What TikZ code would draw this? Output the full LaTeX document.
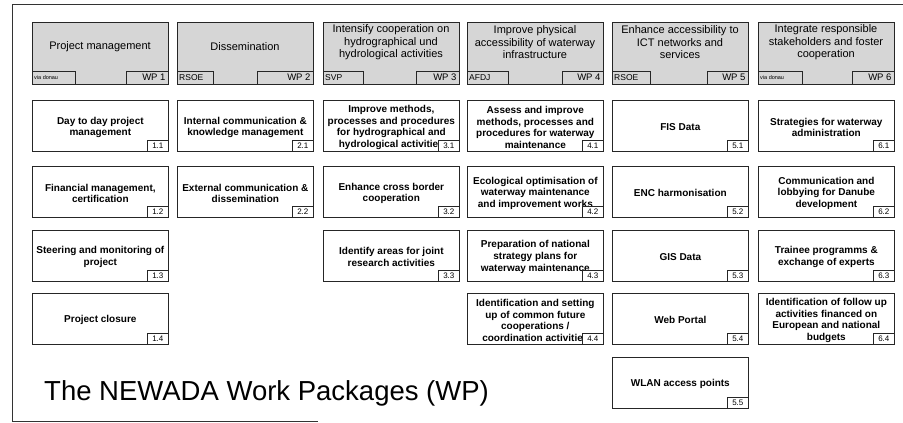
\documentclass[tikz,border=0pt]{standalone}
\usepackage{fontspec}
\setmainfont{Liberation Sans}
\begin{document}
\begin{tikzpicture}[x=1pt,y=-1pt,
  frame/.style={line width=0.8pt, draw=black!80},
  hdr/.style={draw=black!85, line width=0.7pt, fill=black!16, minimum width=136pt, minimum height=62.5pt, anchor=north west, inner sep=0pt},
  hlab/.style={draw=black!85, line width=0.7pt, fill=black!16, minimum height=13.5pt, anchor=south west, inner sep=0pt},
  labtxt/.style={font=\fontsize{8.5}{9}\selectfont, inner sep=0pt},
  tinytxt/.style={font=\fontsize{5.5}{6}\selectfont, inner sep=0pt},
  wptxt/.style={font=\fontsize{9.5}{10}\selectfont, inner sep=0pt},
  htxt/.style={align=center, font=\fontsize{11}{12.5}\selectfont, inner sep=0pt},
  bx/.style={draw=black!85, line width=0.7pt, fill=white, minimum width=136pt, minimum height=51pt, anchor=north west, inner sep=0pt},
  num/.style={draw=black!85, line width=0.7pt, fill=white, minimum width=21pt, minimum height=11pt, anchor=south east, inner sep=0pt, font=\fontsize{8}{9}\selectfont},
  btxt/.style={align=center, font=\fontsize{10}{11.8}\selectfont\bfseries, inner sep=0pt},
  ttl/.style={font=\fontsize{27.5}{30}\selectfont, anchor=base west, inner sep=0pt}]
\useasboundingbox (0,0) rectangle (903,423);

\newcommand\hdrbox[9]{%
  \node[hdr] (h#1) at (#2,21.5) {};
  \node[htxt] (ht#1) at (#2+68,#9) {#3};
  \node[hlab, minimum width=#4pt] (hl#1) at (h#1.south west) {};
  \node[#8, anchor=west] (hlt#1) at ([xshift=2pt]hl#1.west) {#5};
  \node[hlab, anchor=south east, minimum width=#6pt] (hw#1) at (h#1.south east) {};
  \node[wptxt, anchor=east] (hwt#1) at ([xshift=-3pt]hw#1.east) {#7};
}
\newcommand\wpitem[5]{%
  \node[bx] (b#1) at (#2,#3) {};
  \node[btxt] (t#1) at ([yshift=-1.5pt]b#1.center) {#4};
  \node[num] (n#1) at (b#1.south east) {#5};
}

% frame
\coordinate (fTR) at (903,4.5);
\coordinate (fTL) at (12,4.5);
\coordinate (fBL) at (12,421.5);
\coordinate (fBR) at (318,421.5);
\draw[frame] (fTR) -- (fTL) -- (fBL) -- (fBR);

% headers
\hdrbox{1}{32}{Project management}{43}{via donau}{42}{WP 1}{tinytxt}{47}
\hdrbox{2}{177}{Dissemination}{36}{RSOE}{56}{WP 2}{labtxt}{47}
\hdrbox{3}{323}{Intensify cooperation on\\hydrographical und\\hydrological activities}{40}{SVP}{43}{WP 3}{labtxt}{42.5}
\hdrbox{4}{467}{Improve physical\\accessibility of waterway\\infrastructure}{41}{AFDJ}{41}{WP 4}{labtxt}{42.5}
\hdrbox{5}{612}{Enhance accessibility to\\ICT networks and\\services}{38}{RSOE}{41}{WP 5}{labtxt}{42.5}
\hdrbox{6}{758}{Integrate responsible\\stakeholders and foster\\cooperation}{44}{via donau}{42}{WP 6}{tinytxt}{42.5}

% WP 1
\wpitem{11}{32}{100}{Day to day project\\management}{1.1}
\wpitem{12}{32}{166}{Financial management,\\certification}{1.2}
\wpitem{13}{32}{229.5}{Steering and monitoring of\\project}{1.3}
\wpitem{14}{32}{293}{Project closure}{1.4}
% WP 2
\wpitem{21}{177}{100}{Internal communication \&\\knowledge management}{2.1}
\wpitem{22}{177}{166}{External communication \&\\dissemination}{2.2}
% WP 3
\wpitem{31}{323}{100}{Improve methods,\\processes and procedures\\for hydrographical and\\hydrological activities}{3.1}
\wpitem{32}{323}{166}{Enhance cross border\\cooperation}{3.2}
\wpitem{33}{323}{229.5}{Identify areas for joint\\research activities}{3.3}
% WP 4
\wpitem{41}{467}{100}{Assess and improve\\methods, processes and\\procedures for waterway\\maintenance}{4.1}
\wpitem{42}{467}{166}{Ecological optimisation of\\waterway maintenance\\and improvement works}{4.2}
\wpitem{43}{467}{229.5}{Preparation of national\\strategy plans for\\waterway maintenance}{4.3}
\wpitem{44}{467}{293}{Identification and setting\\up of common future\\cooperations /\\coordination activities}{4.4}
% WP 5
\wpitem{51}{612}{100}{FIS Data}{5.1}
\wpitem{52}{612}{166}{ENC harmonisation}{5.2}
\wpitem{53}{612}{229.5}{GIS Data}{5.3}
\wpitem{54}{612}{293}{Web Portal}{5.4}
\wpitem{55}{612}{357}{WLAN access points}{5.5}
% WP 6
\wpitem{61}{758}{100}{Strategies for waterway\\administration}{6.1}
\wpitem{62}{758}{166}{Communication and\\lobbying for Danube\\development}{6.2}
\wpitem{63}{758}{229.5}{Trainee programms \&\\exchange of experts}{6.3}
\wpitem{64}{758}{293}{Identification of follow up\\activities financed on\\European and national\\budgets}{6.4}

% title
\node[ttl] (title) at (44,400) {The NEWADA Work Packages (WP)};
\end{tikzpicture}
\end{document}
